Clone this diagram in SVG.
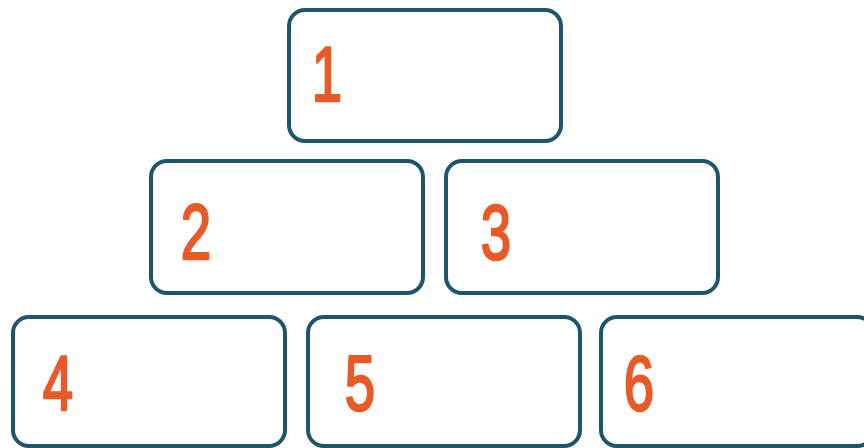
<svg xmlns="http://www.w3.org/2000/svg" width="864" height="448" viewBox="0 0 864 448">
<style>
.box{fill:#ffffff;stroke:#1d566b;stroke-width:4}
.num{fill:#e85a28;stroke:#e85a28;stroke-width:2.5;stroke-linejoin:round;font-family:"Liberation Sans",Arial,sans-serif;font-size:78px;text-anchor:middle}
</style>
<rect width="864" height="448" fill="#ffffff"/>
<g id="node1"><rect class="box" x="289" y="10" width="272" height="131" rx="16"/><text class="num" transform="translate(327,101) scale(0.7,1)">1</text></g>
<g id="node2"><rect class="box" x="151" y="161" width="272" height="132" rx="16"/><text class="num" transform="translate(196,259) scale(0.7,1)">2</text></g>
<g id="node3"><rect class="box" x="446" y="161" width="272" height="132" rx="16"/><text class="num" transform="translate(496,259) scale(0.7,1)">3</text></g>
<g id="node4"><rect class="box" x="13" y="317" width="272" height="129" rx="16"/><text class="num" transform="translate(58,410) scale(0.7,1)">4</text></g>
<g id="node5"><rect class="box" x="308" y="317" width="272" height="129" rx="16"/><text class="num" transform="translate(360,410) scale(0.7,1)">5</text></g>
<g id="node6"><rect class="box" x="601" y="317" width="272" height="129" rx="16"/><text class="num" transform="translate(639,410) scale(0.7,1)">6</text></g>
<g id="connectors"/>
</svg>
